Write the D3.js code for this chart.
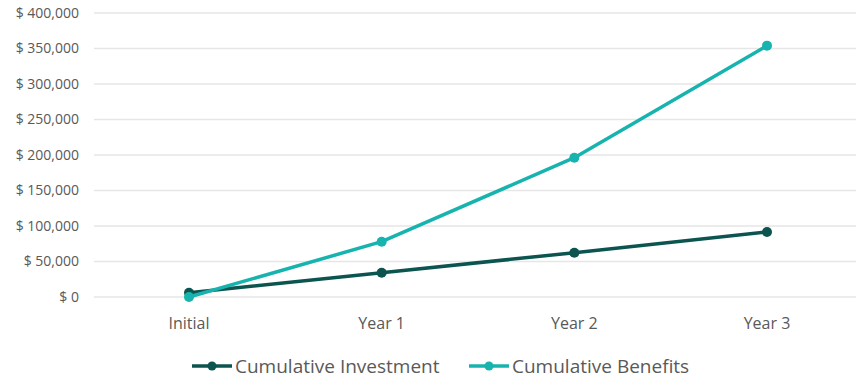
<!DOCTYPE html>
<html><head><meta charset="utf-8">
<script src="https://cdn.jsdelivr.net/npm/d3@7"></script>
<style>body{margin:0;background:#fff}svg{display:block;font-family:"Open Sans",Lato,sans-serif}</style>
</head><body><svg id="c" width="856" height="380"></svg>
<script>
const categories = ["Initial","Year 1","Year 2","Year 3"];
const investment = [6000, 34200, 62400, 91500];
const benefits = [0, 77900, 196200, 354000];
const yTicks = [0,50000,100000,150000,200000,250000,300000,350000,400000];
const seriesNames = ["Cumulative Investment","Cumulative Benefits"];
const colors = ["#0b5450","#17b3ae"];

const svg = d3.select("#c");
const x = d3.scalePoint().domain(categories).range([189,767]);
const y = d3.scaleLinear().domain([0,400000]).range([297,13]);
const fmt = v => "$ " + d3.format(",")(v);

svg.append("g").selectAll("line").data(yTicks).join("line")
  .attr("x1",94).attr("x2",856).attr("y1",d=>y(d)).attr("y2",d=>y(d))
  .attr("stroke","#e6e6e6").attr("stroke-width",1.3);
svg.append("g").selectAll("text").data(yTicks).join("text")
  .attr("x",79).attr("y",d=>y(d)).attr("dy","0.35em").attr("text-anchor","end")
  .attr("fill","#595959").attr("font-size",14).text(fmt);
svg.append("g").selectAll("text").data(categories).join("text")
  .attr("x",d=>x(d)).attr("y",323).attr("dy","0.35em").attr("text-anchor","middle")
  .attr("fill","#595959").attr("font-size",16).text(d=>d);

const line = d3.line().x((d,i)=>x(categories[i])).y(d=>y(d));
[investment, benefits].forEach((s,k)=>{
  svg.append("path").datum(s).attr("d",line).attr("fill","none")
    .attr("stroke",colors[k]).attr("stroke-width",3.5).attr("stroke-linejoin","round");
  svg.append("g").selectAll("circle").data(s).join("circle")
    .attr("cx",(d,i)=>x(categories[i])).attr("cy",d=>y(d)).attr("r",5).attr("fill",colors[k]);
});

const leg = [{x:192},{x:469}];
seriesNames.forEach((n,k)=>{
  const g = svg.append("g").attr("transform",`translate(${leg[k].x},366)`);
  g.append("line").attr("x1",0).attr("x2",40).attr("stroke",colors[k]).attr("stroke-width",3.5);
  g.append("circle").attr("cx",20).attr("r",4.5).attr("fill",colors[k]);
  g.append("text").attr("x",43).attr("dy","0.35em").attr("fill","#595959").attr("font-size",19).text(n);
});
</script></body></html>
